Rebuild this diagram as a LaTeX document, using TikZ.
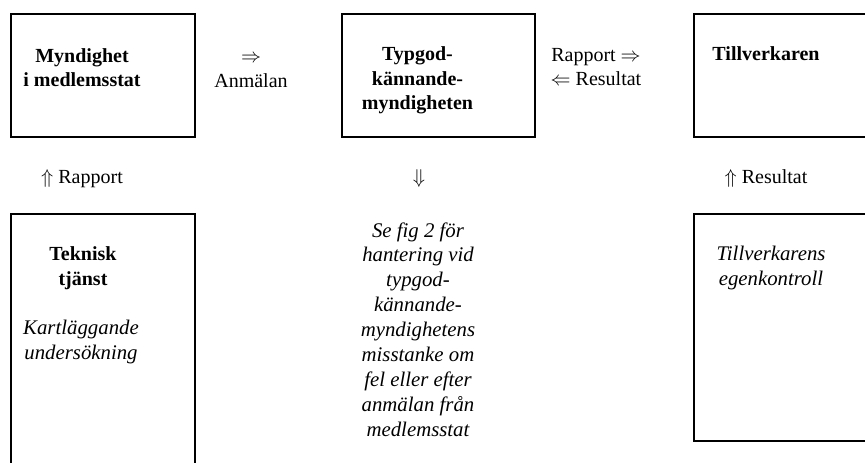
\documentclass[tikz,border=0pt]{standalone}
\usepackage{fontspec}
\setmainfont{Liberation Serif}
\usepackage{amsmath}
\usepackage{amssymb}
\usepackage{tikz}
\usetikzlibrary{positioning, fit, calc}
\tikzset{
    box/.style={draw, line width=1pt, inner sep=0pt},
    txt/.style={inner sep=0pt, align=center, font=\fontsize{10}{12.3}\selectfont},
    head/.append style={txt, font=\fontsize{10}{12.3}\selectfont\bfseries},
    note/.append style={txt, font=\fontsize{10.4}{12.45}\selectfont\itshape},
}

\begin{document}
\begin{tikzpicture}[x=0.5pt, y=-0.5pt]
    \useasboundingbox (0,0) rectangle (865,462);
    \clip (0,0) rectangle (865,462);

    % boxes
    \node[box, fit={(11,14) (194.5,137)}] (myn) {};
    \node[box, fit={(342,14) (535,137)}] (typ) {};
    \node[box, fit={(694,14) (890,137)}] (till) {};
    \node[box, fit={(11,214) (194.5,490)}] (tek) {};
    \node[box, fit={(694,214) (890,440.5)}] (egen) {};

    % box texts
    \node[head, anchor=north] (mynT) at (82,48) {Myndighet\\i medlemsstat};
    \node[head, anchor=north] (typT) at (417.5,46.3) {Typgod-\\kännande-\\myndigheten};
    \node[head, anchor=base] (tillT) at (766,60) {Tillverkaren};
    \node[head, anchor=north] (tekT) at (83,246.3) {Teknisk\\tjänst};
    \node[note, anchor=north] (tekN) at (81,320) {Kartläggande\\undersökning};
    \node[note, anchor=north] (egenN) at (771,246) {Tillverkarens\\egenkontroll};

    % arrows written as text
    \node[txt, anchor=north] (anm) at (251,54.7) {$\Rightarrow$\\Anmälan};
    \node[txt, anchor=north] (rap) at (596,47.8) {Rapport $\Rightarrow$\\$\Leftarrow$ Resultat};
    \node[txt, anchor=base] (upR) at (82,183) {$\Uparrow$ Rapport};
    \node[txt, anchor=base] (dn) at (419,183) {$\Downarrow$};
    \node[txt, anchor=base] (upS) at (766,183) {$\Uparrow$ Resultat};

    \node[note, anchor=north] (fig) at (418,222)
      {Se fig 2 för\\hantering vid\\typgod-\\kännande-\\myndighetens\\misstanke om\\fel eller efter\\anmälan från\\medlemsstat};
\end{tikzpicture}
\end{document}
